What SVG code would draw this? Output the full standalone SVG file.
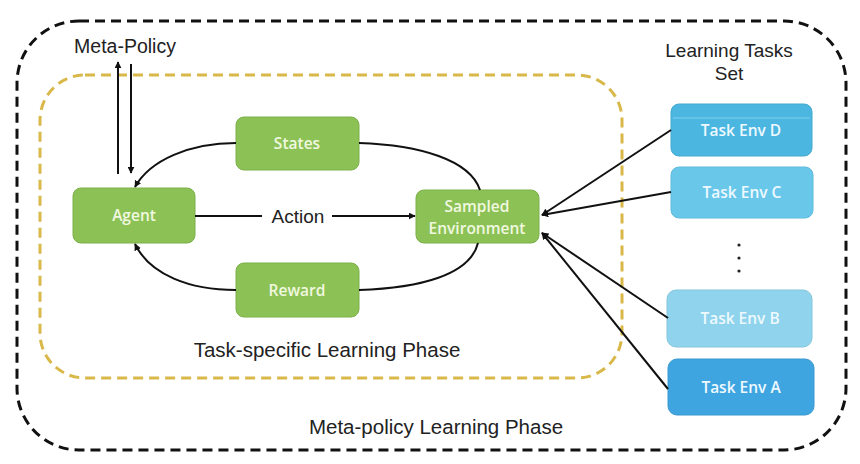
<svg xmlns="http://www.w3.org/2000/svg" width="860" height="464" viewBox="0 0 860 464">
<defs>
<marker id="ah" viewBox="0 0 10 10" refX="9" refY="5" markerWidth="7" markerHeight="7" orient="auto-start-reverse" markerUnits="userSpaceOnUse"><path d="M0,0 L10,5 L0,10 z" fill="#111"/></marker>
<style>
.lbl{font-family:"Liberation Sans",Arial,sans-serif;fill:#222;}
.bt{font-family:"Open Sans","Liberation Sans",sans-serif;font-size:15.5px;font-weight:600;fill:#f1f8e0;text-anchor:middle;}
.tt{font-family:"Open Sans","Liberation Sans",sans-serif;font-size:15.5px;font-weight:600;fill:#eef9ff;text-anchor:middle;}
.g{fill:#8cc255;stroke:#7cb04a;stroke-width:1;}
.c{fill:none;stroke:#111;stroke-width:2;}
</style>
</defs>
<rect width="860" height="464" fill="#fff"/>
<g id="outer">
<rect x="17" y="21" width="829" height="429" rx="62" fill="none" stroke="#111" stroke-width="3" stroke-dasharray="10,6"/>
<text class="lbl" x="436" y="434" font-size="20.5" text-anchor="middle">Meta-policy Learning Phase</text>
</g>
<g id="inner">
<rect x="40" y="75" width="582" height="303" rx="45" fill="none" stroke="#d9b84a" stroke-width="3" stroke-dasharray="10,6"/>
<text class="lbl" x="327" y="357" font-size="20.5" text-anchor="middle">Task-specific Learning Phase</text>
</g>
<g id="metapolicy"><text class="lbl" x="125" y="53" font-size="19.5" text-anchor="middle">Meta-Policy</text></g>
<g id="tasksetlabel"><text class="lbl" x="729" y="57" font-size="19" text-anchor="middle">Learning Tasks</text><text class="lbl" x="729" y="80" font-size="19" text-anchor="middle">Set</text></g>
<g id="states"><rect class="g" x="236" y="117" width="123" height="53" rx="8"/><text class="bt" x="297" y="149">States</text></g>
<g id="agent"><rect class="g" x="73" y="188" width="122" height="55" rx="8"/><text class="bt" x="134" y="221">Agent</text></g>
<g id="sampled"><rect class="g" x="416" y="190" width="123" height="53" rx="8"/><text class="bt" x="477" y="212">Sampled</text><text class="bt" x="477" y="234">Environment</text></g>
<g id="reward"><rect class="g" x="236" y="263" width="123" height="54" rx="8"/><text class="bt" x="297" y="296">Reward</text></g>
<g id="envD"><rect x="671" y="104" width="141" height="52" rx="8" fill="#4bb7e1" stroke="#45a8d0"/><line x1="673" y1="118" x2="810" y2="118" stroke="#7fd0ee" stroke-width="1"/><text class="tt" x="741" y="136">Task Env D</text></g>
<g id="envC"><rect x="671" y="167" width="142" height="51" rx="8" fill="#69c8ea" stroke="#5fbadc"/><text class="tt" x="742" y="198">Task Env C</text></g>
<g id="dots"><circle cx="739" cy="245" r="1.6" fill="#222"/><circle cx="739" cy="258" r="1.6" fill="#222"/><circle cx="739" cy="271" r="1.6" fill="#222"/></g>
<g id="envB"><rect x="667" y="290" width="145" height="57" rx="9" fill="#8fd4ec" stroke="#84c6dc"/><text class="tt" x="740" y="324">Task Env B</text></g>
<g id="envA"><rect x="668" y="359" width="146" height="56" rx="9" fill="#3fa5e1" stroke="#3b98cf"/><text class="tt" x="741" y="393">Task Env A</text></g>
<g id="connectors">
<line class="c" x1="118" y1="174" x2="118" y2="62" marker-end="url(#ah)"/>
<line class="c" x1="131" y1="64" x2="131" y2="173" marker-end="url(#ah)"/>
<path class="c" d="M236,143 C190,143 150,160 135,187" marker-end="url(#ah)"/>
<path class="c" d="M359,143 C420,145 470,160 480,190"/>
<path class="c" d="M236,290 C190,290 150,275 135,244" marker-end="url(#ah)"/>
<path class="c" d="M359,290 C420,288 470,275 478,243"/>
<line class="c" x1="195" y1="216" x2="262" y2="216"/>
<text class="lbl" x="298" y="223" font-size="19" text-anchor="middle">Action</text>
<line class="c" x1="332" y1="216" x2="415" y2="216" marker-end="url(#ah)"/>
<line class="c" x1="671" y1="130" x2="542" y2="215" marker-end="url(#ah)"/>
<line class="c" x1="671" y1="192" x2="542" y2="215" marker-end="url(#ah)"/>
<line class="c" x1="668" y1="318" x2="542" y2="233" marker-end="url(#ah)"/>
<line class="c" x1="668" y1="389" x2="542" y2="233" marker-end="url(#ah)"/>
</g>
</svg>
